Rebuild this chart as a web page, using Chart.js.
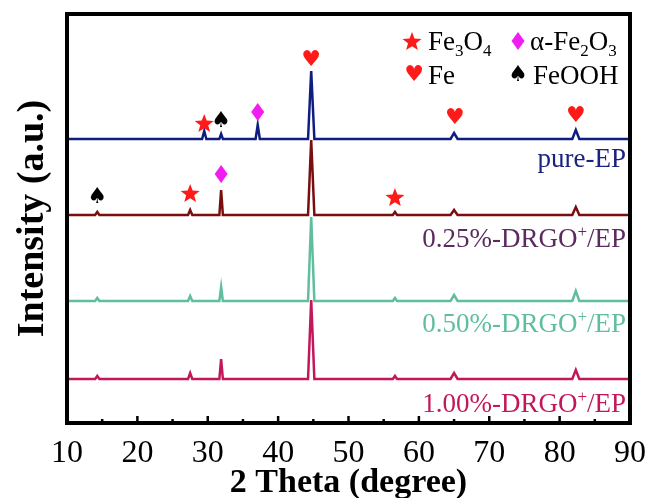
<!DOCTYPE html>
<html>
<head>
<meta charset="utf-8">
<script src="https://cdn.jsdelivr.net/npm/chart.js@4.4.0/dist/chart.umd.min.js"></script>
<style>
  html, body { margin: 0; padding: 0; background: #fff; }
</style>
</head>
<body>
<canvas id="xrdChart" width="651" height="498"></canvas>
<script>
// Peak positions (2 theta, degree) shared by all patterns
const peakPositions = [14.3, 27.5, 29.5, 31.9, 37.1, 44.7, 56.6, 65.0, 82.3];
const peakWidths    = [0.3, 0.3, 0.3, 0.25, 0.3, 0.45, 0.3, 0.5, 0.5];

// Peak heights above each baseline (a.u.)
const pureEpPeaks  = [0, 0, 8, 5, 14, 68, 0, 6, 9];
const drgo025Peaks = [3, 5, 0, 25, 0, 75, 3, 5, 8];
const drgo050Peaks = [3, 5, 0, 14, 0, 84, 3, 6, 10];
const drgo100Peaks = [3, 6, 0, 20, 0, 79, 3, 6, 9];

// Stacking offsets of the four patterns
const baselines = [284, 208, 122, 44];
const labelLevels = [265, 185, 100, 20];
const seriesColors = ['#0f1d7e', '#7a0d0d', '#5fbf9d', '#c2185a'];
const labelColors = ['#1a237e', '#5b2a5f', '#5fbf9d', '#c2185a'];

const xTicks = [10, 20, 30, 40, 50, 60, 70, 80, 90];

// Phase markers above the peaks
const markerX    = [29.5, 31.9, 37.1, 44.7, 65.1, 82.3, 14.3, 27.5, 31.9, 56.6];
const markerY    = [300, 302, 311, 363, 305, 307, 226, 230, 249, 226];
const markerType = ['star', 'spade', 'diamond', 'heart', 'heart', 'heart', 'spade', 'star', 'diamond', 'star'];

// Build a pattern from its peak list (flat baseline + sharp peaks)
function buildPattern(heights, base) {
    const pts = [{ x: 10, y: base }];
    peakPositions.forEach((p, i) => {
        if (!heights[i]) return;
        pts.push({ x: p - peakWidths[i], y: base });
        pts.push({ x: p, y: base + heights[i] });
        pts.push({ x: p + peakWidths[i], y: base });
    });
    pts.push({ x: 90, y: base });
    return pts;
}

const serif = "'Liberation Serif', 'Times New Roman', serif";

function drawSymbol(ctx, type, x, y) {
    ctx.save();
    if (type === 'star') {
        ctx.fillStyle = '#ff1a1a';
        ctx.beginPath();
        for (let k = 0; k < 10; k++) {
            const r = k % 2 === 0 ? 10 : 4.2;
            const a = -Math.PI / 2 + k * Math.PI / 5;
            const px = x + r * Math.cos(a), py = y + 1 + r * Math.sin(a);
            k === 0 ? ctx.moveTo(px, py) : ctx.lineTo(px, py);
        }
        ctx.closePath();
        ctx.fill();
    } else if (type === 'diamond') {
        ctx.fillStyle = '#f21cf2';
        ctx.beginPath();
        ctx.moveTo(x, y - 9);
        ctx.lineTo(x + 6.5, y);
        ctx.lineTo(x, y + 9);
        ctx.lineTo(x - 6.5, y);
        ctx.closePath();
        ctx.fill();
    } else {
        ctx.fillStyle = type === 'heart' ? '#ff1a1a' : '#000';
        ctx.font = "22px 'DejaVu Sans'";
        ctx.textAlign = 'center';
        ctx.textBaseline = 'middle';
        ctx.fillText(type === 'heart' ? '\u2665' : '\u2660', x, y);
    }
    ctx.restore();
}

// Text with sub/superscript parts: [text, 'sub'|'sup'|undefined]
function drawRich(ctx, parts, x, y, size, align) {
    const small = Math.round(size * 0.62);
    let total = 0;
    parts.forEach(p => {
        ctx.font = (p[1] ? small : size) + 'px ' + serif;
        total += ctx.measureText(p[0]).width;
    });
    let cx = align === 'right' ? x - total : x;
    ctx.textAlign = 'left';
    ctx.textBaseline = 'alphabetic';
    parts.forEach(p => {
        ctx.font = (p[1] ? small : size) + 'px ' + serif;
        let dy = 0;
        if (p[1] === 'sub') dy = size * 0.22;
        if (p[1] === 'sup') dy = -size * 0.38;
        ctx.fillText(p[0], cx, y + dy);
        cx += ctx.measureText(p[0]).width;
    });
}

const seriesLabels = [
    [['pure-EP']],
    [['0.25%-DRGO'], ['+', 'sup'], ['/EP']],
    [['0.50%-DRGO'], ['+', 'sup'], ['/EP']],
    [['1.00%-DRGO'], ['+', 'sup'], ['/EP']]
];

const decorations = {
    id: 'decorations',
    afterDatasetsDraw(chart) {
        const ctx = chart.ctx;
        const xs = chart.scales.x, ys = chart.scales.y;
        const area = chart.chartArea;

        // phase markers
        markerX.forEach((mx, i) => {
            drawSymbol(ctx, markerType[i], xs.getPixelForValue(mx), ys.getPixelForValue(markerY[i]));
        });

        // sample labels
        seriesLabels.forEach((parts, i) => {
            ctx.fillStyle = labelColors[i];
            drawRich(ctx, parts, area.right - 4, ys.getPixelForValue(labelLevels[i]) + 9, 27, 'right');
        });

        // legend
        ctx.fillStyle = '#000';
        const r1 = area.top + 27, r2 = area.top + 61;
        drawSymbol(ctx, 'star', 412, r1);
        drawRich(ctx, [['Fe'], ['3', 'sub'], ['O'], ['4', 'sub']], 428, r1 + 9, 27);
        drawSymbol(ctx, 'diamond', 518, r1);
        ctx.fillStyle = '#000';
        drawRich(ctx, [['\u03b1-Fe'], ['2', 'sub'], ['O'], ['3', 'sub']], 530, r1 + 9, 27);
        drawSymbol(ctx, 'heart', 414, r2);
        ctx.fillStyle = '#000';
        drawRich(ctx, [['Fe']], 428, r2 + 9, 27);
        drawSymbol(ctx, 'spade', 518, r2);
        ctx.fillStyle = '#000';
        drawRich(ctx, [['FeOOH']], 533, r2 + 9, 27);

        // inward ticks on the bottom axis
        ctx.save();
        ctx.strokeStyle = '#000';
        ctx.lineWidth = 2.5;
        for (let v = 15; v < 90; v += 5) {
            const px = xs.getPixelForValue(v);
            const len = v % 10 === 0 ? 7 : 4;
            ctx.beginPath();
            ctx.moveTo(px, area.bottom);
            ctx.lineTo(px, area.bottom - len);
            ctx.stroke();
        }
        // frame
        ctx.lineWidth = 4;
        ctx.strokeRect(area.left, area.top, area.right - area.left, area.bottom - area.top);
        ctx.restore();
    }
};

const datasets = [pureEpPeaks, drgo025Peaks, drgo050Peaks, drgo100Peaks].map((peaks, i) => ({
    label: seriesLabels[i].map(p => p[0]).join(''),
    data: buildPattern(peaks, baselines[i]),
    borderColor: seriesColors[i],
    borderWidth: 2.5,
    pointRadius: 0,
    tension: 0,
    fill: false
}));

new Chart(document.getElementById('xrdChart').getContext('2d'), {
    type: 'line',
    data: { datasets: datasets },
    plugins: [decorations],
    options: {
        responsive: false,
        animation: false,
        layout: { padding: { top: 14, right: 21, left: 0, bottom: 0 } },
        plugins: {
            legend: { display: false },
            tooltip: { enabled: false }
        },
        scales: {
            x: {
                type: 'linear',
                min: 10,
                max: 90,
                afterFit: scale => { scale.height = 75; },
                afterBuildTicks: scale => { scale.ticks = xTicks.map(v => ({ value: v })); },
                grid: { display: false },
                border: { display: false },
                ticks: {
                    color: '#000',
                    padding: 3,
                    maxRotation: 0,
                    font: { family: serif, size: 32 }
                },
                title: {
                    display: true,
                    text: '2 Theta (degree)',
                    color: '#000',
                    padding: { top: 0, bottom: -6 },
                    font: { family: serif, size: 34, weight: 'bold' }
                }
            },
            y: {
                min: 0,
                max: 409,
                afterFit: scale => { scale.width = 67; },
                grid: { display: false },
                border: { display: false },
                ticks: { display: false },
                title: {
                    display: true,
                    text: 'Intensity (a.u.)',
                    color: '#000',
                    padding: { top: 10, bottom: 0 },
                    font: { family: serif, size: 38, weight: 'bold' }
                }
            }
        }
    }
});
</script>
</body>
</html>
